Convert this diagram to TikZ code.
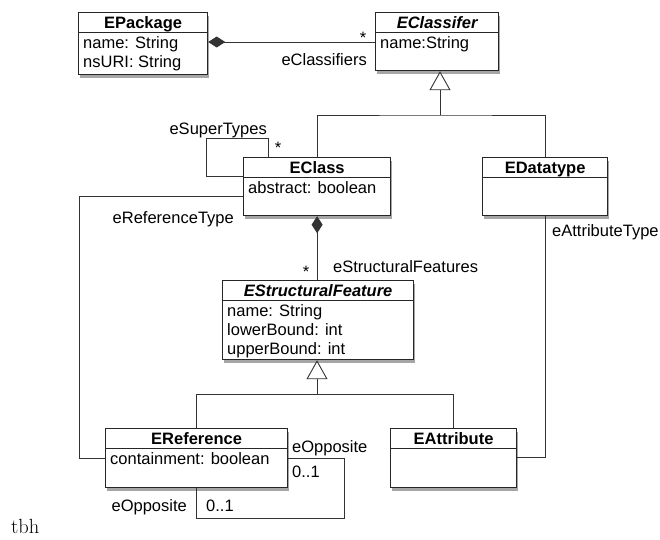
\documentclass[tikz,border=0pt]{standalone}
\usepackage{fontspec}
\newfontfamily\umlfont{Liberation Sans}
\usetikzlibrary{arrows.meta, positioning, calc, shadows}

\tikzset{
  classbox/.style={draw=black!85, line width=1.2pt, fill=white, inner sep=0pt, anchor=north west,
    drop shadow={shadow xshift=1.5pt, shadow yshift=-3.5pt, fill=black, opacity=.35}},
  classline/.style={draw=black!85, line width=1pt},
  classtitle/.style={font=\umlfont\fontsize{16.5}{19}\selectfont\bfseries, inner sep=0pt, anchor=base},
  classattr/.style={font=\umlfont\fontsize{16.5}{19}\selectfont, inner sep=0pt, anchor=north west, align=left},
  rolelabel/.style={font=\umlfont\fontsize{16.5}{19}\selectfont, inner sep=0pt},
  assoc/.style={draw=black!80, line width=0.9pt},
  composite/.style={assoc, {Diamond[length=17pt, width=11pt]}-},
  inherit/.style={assoc, -{Triangle[open, length=19pt, width=21pt, fill=white]}},
}

% class box: name, left, top, width, height, title, attributes
\newcommand{\umlclass}[7]{%
  \node[classbox, minimum width=#4pt, minimum height=#5pt] (#1) at (#2,-#3) {};
  \node[classtitle] (#1-title) at ($(#1.north)+(0,-16)$) {#6};
  \draw[classline] ($(#1.north west)+(0,-20)$) -- ($(#1.north east)+(0,-20)$);
  \node[classattr] (#1-attr) at ($(#1.north west)+(5,-24)$) {#7};
}

\begin{document}
\begin{tikzpicture}[x=1pt, y=1pt]
\useasboundingbox (0,0) rectangle (660,-539);
%draw classes
\umlclass{pkg}{78}{12}{129}{62}{EPackage}{name: String\\nsURI: String}
\umlclass{classifier}{375}{12}{123}{58}{\itshape EClassifer}{name:String}
\umlclass{eclass}{243}{157}{147}{58}{EClass}{abstract: boolean}
\umlclass{edatatype}{482}{157}{125}{58}{EDatatype}{}
\umlclass{esf}{222}{280}{191}{79}{\itshape EStructuralFeature}{name: String\\lowerBound: int\\upperBound: int}
\umlclass{eref}{105}{428}{182}{59}{EReference}{containment: boolean}
\umlclass{eattr}{390}{428}{126}{59}{EAttribute}{}

%draw generalizations
\coordinate (gen1) at (440,-115);
\draw[inherit] (gen1) -- (gen1 |- classifier.south);
\draw[assoc] (eclass.north) |- (gen1) -| (edatatype.north);
\coordinate (gen2) at (317,-394);
\draw[inherit] (gen2) -- (gen2 |- esf.south);
\draw[assoc] (eref.north) |- (gen2) -| (eattr.north);

%draw compositions
\draw[composite] ($(pkg.north east)+(0,-30)$) -- ($(classifier.north west)+(0,-30)$);
\draw[composite] (eclass.south) -- (eclass.south |- esf.north);

%draw references
\draw[assoc] ($(eclass.north west)+(25,0)$) -- ++(0,19) -| ++(-62,-38) -- ($(eclass.north west)+(0,-19)$);
\draw[assoc] ($(eclass.north west)+(0,-39)$) -| ($(eref.north west)+(-26,-30)$) -- ($(eref.north west)+(0,-30)$);
\draw[assoc] (edatatype.south) |- ($(eattr.north east)+(0,-29)$);
\draw[assoc] ($(eref.north east)+(0,-30)$) -| ++(56,-60) -| (eref.south);

%draw role labels
\node[rolelabel, anchor=base] (star-cls) at (363,-43) {*};
\node[rolelabel, anchor=base east] (lbl-cls) at (367,-65) {eClassifiers};
\node[rolelabel, anchor=base east] (lbl-super) at (267,-134) {eSuperTypes};
\node[rolelabel, anchor=base] (star-super) at (278,-153) {*};
\node[rolelabel, anchor=base east] (lbl-reftype) at (234,-223) {eReferenceType};
\node[rolelabel, anchor=base west] (lbl-attrtype) at (552,-236) {eAttributeType};
\node[rolelabel, anchor=base] (star-sf) at (306,-277) {*};
\node[rolelabel, anchor=base west] (lbl-sf) at (333,-272) {eStructuralFeatures};
\node[rolelabel, anchor=base west] (lbl-opp1) at (292,-452) {eOpposite};
\node[rolelabel, anchor=base west] (mult-opp1) at (292,-477) {0..1};
\node[rolelabel, anchor=base east] (lbl-opp2) at (187,-511) {eOpposite};
\node[rolelabel, anchor=base west] (mult-opp2) at (206,-511) {0..1};

\node[font=\fontsize{20.5}{24}\selectfont, anchor=base west, inner sep=0pt] (tbh) at (11,-533) {tbh};
\end{tikzpicture}
\end{document}
